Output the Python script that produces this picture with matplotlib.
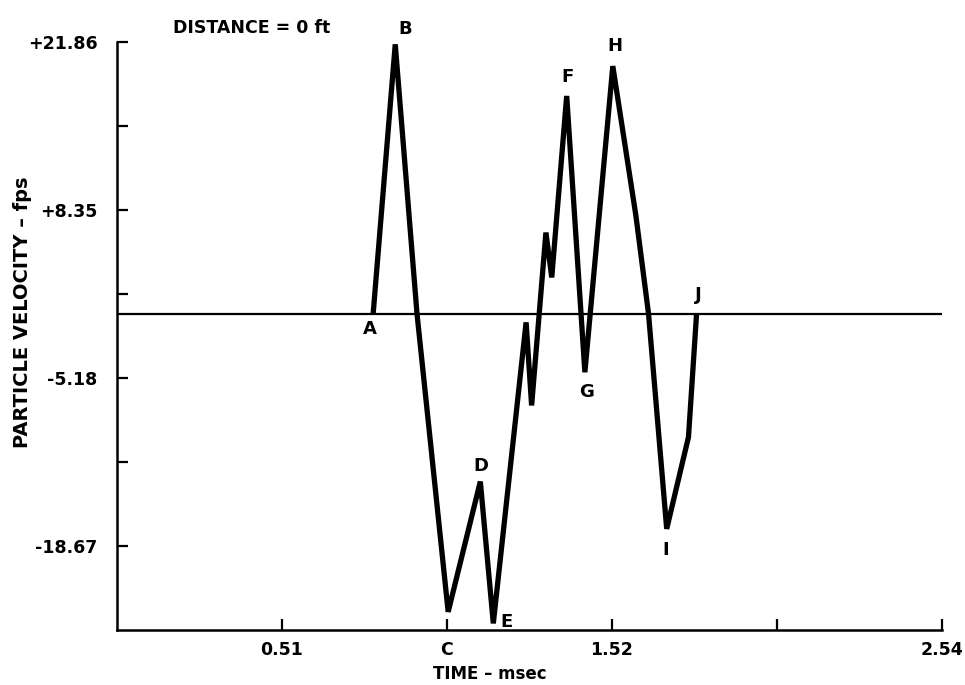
import matplotlib
matplotlib.use("Agg")
import matplotlib.pyplot as plt

# waveform (time in msec, velocity in fps)
time_ms = [0.789, 0.857, 0.924, 1.020, 1.119, 1.159, 1.260, 1.277, 1.321,
           1.339, 1.385, 1.441, 1.527, 1.598, 1.637, 1.693, 1.760, 1.785]
velocity = [0.0, 21.65, 0.0, -23.97, -13.5, -24.9, -0.7, -7.38, 6.52,
            2.91, 17.5, -4.71, 19.9, 7.9, 0.0, -17.3, -9.93, 0.0]

# letter markers on the trace
point_names = ["A", "B", "D", "E", "F", "G", "H", "I", "J"]
point_t = [0.779, 0.887, 1.121, 1.201, 1.386, 1.447, 1.534, 1.691, 1.789]
point_v = [-1.2, 22.9, -12.25, -24.75, 19.0, -6.3, 21.5, -19.0, 1.5]

x_ticks = [0.508, 1.016, 1.524, 2.032, 2.54]
x_labels = ["0.51", "C", "1.52", "", "2.54"]
y_ticks = [21.86, 15.105, 8.35, 1.595, -5.18, -11.925, -18.67]
y_labels = ["+21.86", "", "+8.35", "", "-5.18", "", "-18.67"]

fig = plt.figure(figsize=(9.65, 6.85), dpi=100)
ax = fig.add_axes([0.1212, 0.0803, 0.8547, 0.8588])

ax.plot(time_ms, velocity, color="black", lw=3.8, solid_joinstyle="miter",
        solid_capstyle="butt")
ax.axhline(0, color="black", lw=1.6)

ax.set_xlim(0, 2.54)
ax.set_ylim(-25.43, 21.86)

for s in ["top", "right"]:
    ax.spines[s].set_visible(False)
for s in ["left", "bottom"]:
    ax.spines[s].set_linewidth(1.8)

ax.set_xticks(x_ticks)
ax.set_xticklabels(x_labels, fontsize=12.5, fontweight="bold")
ax.set_yticks(y_ticks)
ax.set_yticklabels(y_labels, fontsize=12.5, fontweight="bold")
ax.tick_params(axis="x", direction="in", length=8, width=1.6, pad=8)
ax.tick_params(axis="y", direction="in", length=8, width=1.6, pad=14)

ax.set_xlabel("TIME – msec", fontsize=12, fontweight="bold")
ax.xaxis.set_label_coords(0.452, -0.059)
fig.text(23 / 965, 1 - 312 / 685, "PARTICLE VELOCITY – fps", fontsize=14,
         fontweight="bold", rotation=90, ha="center", va="center")

for name, t, v in zip(point_names, point_t, point_v):
    ax.text(t, v, name, fontsize=13, fontweight="bold", ha="center", va="center")

ax.text(0.172, 23.0, "DISTANCE = 0 ft", fontsize=12.5, fontweight="bold",
        ha="left", va="center", clip_on=False)

fig.savefig("out.png", dpi=100)
